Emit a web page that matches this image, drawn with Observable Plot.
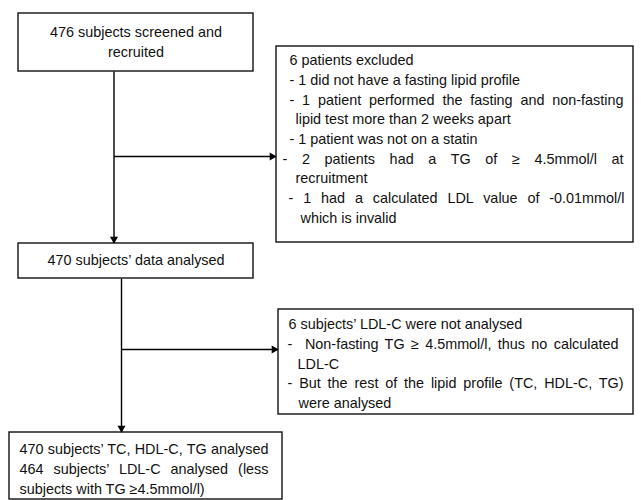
<!DOCTYPE html>
<html>
<head>
<meta charset="utf-8">
<script src="https://cdn.jsdelivr.net/npm/d3@7"></script>
<script src="https://cdn.jsdelivr.net/npm/@observablehq/plot@0.6"></script>
<style>
  html, body { margin: 0; padding: 0; background: #fff; }
  #chart svg { display: block; }
</style>
</head>
<body>
<div id="chart"></div>
<script>
// ---- Content (text of each flowchart box) ----
const box1Lines = ["476 subjects screened and", "recruited"];
const exclusionLines = [
  "6 patients excluded",
  "- 1 did not have a fasting lipid profile",
  "- 1 patient performed the fasting and non-fasting",
  "lipid test more than 2 weeks apart",
  "- 1 patient was not on a statin",
  "- 2 patients had a TG of ≥ 4.5mmol/l at",
  "recruitment",
  "- 1 had a calculated LDL value of -0.01mmol/l",
  "which is invalid"
];
const box2Lines = ["470 subjects\u2019 data analysed"];
const ldlLines = [
  "6 subjects\u2019 LDL-C were not analysed",
  "-  Non-fasting TG ≥ 4.5mmol/l, thus no calculated",
  "LDL-C",
  "- But the rest of the lipid profile (TC, HDL-C, TG)",
  "were analysed"
];
const box3Lines = [
  "470 subjects\u2019 TC, HDL-C, TG analysed",
  "464 subjects\u2019 LDL-C analysed (less",
  "subjects with TG ≥4.5mmol/l)"
];

// ---- Layout (box geometry, text placement) ----
const boxes = [
  {id: "screened", x1: 18, x2: 253, y1: 13, y2: 71},
  {id: "excluded", x1: 276, x2: 633, y1: 46, y2: 242},
  {id: "analysed", x1: 18, x2: 253, y1: 243, y2: 278},
  {id: "ldl", x1: 278, x2: 633, y1: 309, y2: 414},
  {id: "final", x1: 9, x2: 282, y1: 432, y2: 499}
];
const connectors = [
  {x1: 113.5, y1: 71, x2: 113.5, y2: 243, dir: "down"},
  {x1: 113.5, y1: 156, x2: 276, y2: 156, dir: "right"},
  {x1: 121, y1: 278, x2: 121, y2: 432, dir: "down"},
  {x1: 121, y1: 349, x2: 278, y2: 349, dir: "right"}
];
const exclX = [289, 289, 289, 295, 289, 282, 295, 288, 300];
const ldlX = [288, 287, 297, 287, 298];
const lineGap = 19.7;

const texts = [];
box1Lines.forEach((t, i) => texts.push({t, x: 135.5, y: 32 + i * 20, anchor: "middle"}));
exclusionLines.forEach((t, i) => texts.push({t, x: exclX[i], y: 60 + i * lineGap, anchor: "start"}));
box2Lines.forEach((t, i) => texts.push({t, x: 135.5, y: 260, anchor: "middle"}));
ldlLines.forEach((t, i) => texts.push({t, x: ldlX[i], y: 324 + i * lineGap, anchor: "start"}));
box3Lines.forEach((t, i) => texts.push({t, x: 19, y: 449 + i * 20, anchor: "start"}));

// justified lines: text -> right edge
const justify = new Map([
  [exclusionLines[2], 623],
  [exclusionLines[5], 623],
  [exclusionLines[7], 624],
  [ldlLines[1], 618],
  [ldlLines[3], 623],
  [box3Lines[0], 268],
  [box3Lines[1], 268]
]);

const heads = connectors.map(c => ({x: c.x2, y: c.y2, dir: c.dir}));
const font = "Liberation Sans, Arial, sans-serif";
const fs = 14.4;

const chart = Plot.plot({
  width: 641,
  height: 500,
  margin: 0,
  x: {domain: [0, 641], range: [0, 641], axis: null},
  y: {domain: [0, 500], range: [0, 500], axis: null},
  style: {fontFamily: font, background: "#fff"},
  marks: [
    Plot.link(connectors, {x1: "x1", y1: "y1", x2: "x2", y2: "y2", stroke: "black", strokeWidth: 1.4}),
    Plot.rect(boxes, {x1: "x1", x2: "x2", y1: "y1", y2: "y2", fill: "white", stroke: "#111", strokeWidth: 1.4}),
    Plot.dot(heads.filter(d => d.dir === "down"), {x: "x", y: "y", symbol: "triangle", r: 3, rotate: 180, dy: -4.5, fill: "black", stroke: "none"}),
    Plot.dot(heads.filter(d => d.dir === "right"), {x: "x", y: "y", symbol: "triangle", r: 3, rotate: 90, dx: -4.5, fill: "black", stroke: "none"}),
    Plot.text(texts.filter(d => d.anchor === "middle"), {x: "x", y: "y", text: "t", textAnchor: "middle", fontSize: fs, fill: "#111", fontFamily: font}),
    Plot.text(texts.filter(d => d.anchor === "start"), {x: "x", y: "y", text: "t", textAnchor: "start", fontSize: fs, fill: "#111", fontFamily: font})
  ]
});

document.getElementById("chart").appendChild(chart);

// justify lines by widening word spacing, as in the original
const xs = new Map(texts.map(d => [d.t, d.x]));
chart.querySelectorAll("text").forEach(el => {
  const t = el.textContent;
  if (justify.has(t)) {
    const target = justify.get(t) - xs.get(t);
    const natural = el.getComputedTextLength();
    const spaces = (t.match(/ /g) || []).length;
    if (spaces > 0) {
      const ws = (target - natural) / spaces;
      el.style.wordSpacing = ws + "px";
    }
  }
});
</script>
</body>
</html>
